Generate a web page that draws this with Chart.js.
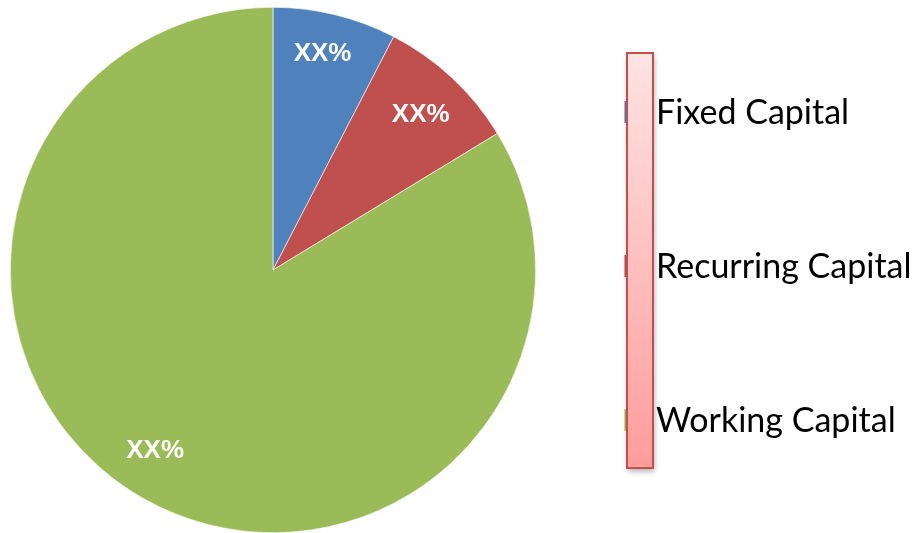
<!DOCTYPE html>
<html>
<head>
<meta charset="utf-8">
<script src="https://cdn.jsdelivr.net/npm/chart.js@4.4.1/dist/chart.umd.min.js"></script>
<style>
  html, body { margin: 0; padding: 0; background: #ffffff; }
  #wrap { width: 919px; height: 533px; position: relative; }
</style>
</head>
<body>
<div id="wrap"><canvas id="chart" width="919" height="533"></canvas></div>
<script>
// Capital structure shares (percent of total)
const categories = ['Fixed Capital', 'Recurring Capital', 'Working Capital'];
const shares = [7.6, 8.7, 83.7];
const sliceLabels = ['XX%', 'XX%', 'XX%'];
const sliceColors = ['#4f81bd', '#c0504d', '#9bbb59'];

// White captions inside each slice, placed along the slice's middle angle
const sliceCaptions = {
  id: 'sliceCaptions',
  afterDatasetsDraw(chart) {
    const ctx = chart.ctx;
    const meta = chart.getDatasetMeta(0);
    const nudge = [[-2, -4], [-1, 4], [-11, -9]];
    ctx.save();
    ctx.fillStyle = '#ffffff';
    ctx.font = 'bold 26px "Liberation Sans", Arial, sans-serif';
    ctx.textAlign = 'center';
    ctx.textBaseline = 'middle';
    meta.data.forEach((arc, i) => {
      const p = arc.getProps(['x', 'y', 'startAngle', 'endAngle', 'outerRadius'], true);
      const mid = (p.startAngle + p.endAngle) / 2;
      const r = p.outerRadius * 0.83;
      ctx.fillText(sliceLabels[i],
        p.x + Math.cos(mid) * r + nudge[i][0],
        p.y + Math.sin(mid) * r + nudge[i][1]);
    });
    ctx.restore();
  }
};

// Legend: colour ticks peeking out behind a shaded pink bar, names to its right
const sideLegend = {
  id: 'sideLegend',
  afterDraw(chart) {
    const ctx = chart.ctx;
    const bx = 627, by = 53, bw = 26, bh = 415;
    const rows = [112, 266, 420];
    ctx.save();
    categories.forEach((c, i) => {
      ctx.fillStyle = sliceColors[i];
      ctx.fillRect(bx - 2.5, rows[i] - 11, 5, 22);
    });
    ctx.shadowColor = 'rgba(0,0,0,0.35)';
    ctx.shadowBlur = 6;
    ctx.shadowOffsetX = 1;
    ctx.shadowOffsetY = 3;
    const g = ctx.createLinearGradient(0, by, 0, by + bh);
    g.addColorStop(0, '#ffe3e3');
    g.addColorStop(1, '#ff9c9c');
    ctx.fillStyle = g;
    ctx.fillRect(bx, by, bw, bh);
    ctx.shadowColor = 'transparent';
    ctx.strokeStyle = '#c0504d';
    ctx.lineWidth = 2;
    ctx.strokeRect(bx, by, bw, bh);
    ctx.fillStyle = '#000000';
    ctx.font = '34px Lato, "Open Sans", sans-serif';
    ctx.textAlign = 'left';
    ctx.textBaseline = 'middle';
    categories.forEach((c, i) => {
      ctx.fillText(c, 656, rows[i] + 1);
    });
    ctx.restore();
  }
};

new Chart(document.getElementById('chart'), {
  type: 'pie',
  data: {
    labels: categories,
    datasets: [{
      data: shares,
      backgroundColor: sliceColors,
      borderColor: '#ffffff',
      borderWidth: 0.6
    }]
  },
  options: {
    responsive: false,
    animation: false,
    layout: { padding: { left: 10, right: 383, top: 7, bottom: 0 } },
    plugins: {
      legend: { display: false },
      tooltip: { enabled: false }
    }
  },
  plugins: [sliceCaptions, sideLegend]
});
</script>
</body>
</html>
